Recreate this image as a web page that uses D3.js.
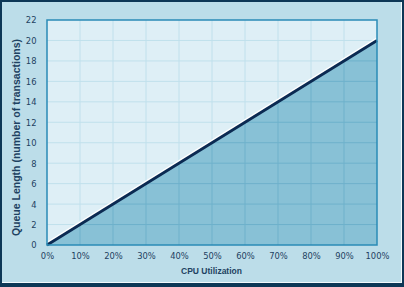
<!DOCTYPE html>
<html><head><meta charset="utf-8">
<script src="https://cdn.jsdelivr.net/npm/d3@7"></script>
<style>body{margin:0;padding:0;background:#fff}svg{display:block}</style>
</head><body>
<script>
const xValues = [0, 100];
const yValues = [0, 20];
const xTicks = [0,10,20,30,40,50,60,70,80,90,100];
const yTicks = [0,2,4,6,8,10,12,14,16,18,20,22];
const xTitle = "CPU Utilization";
const yTitle = "Queue Length (number of transactions)";

const W = 404, H = 287;
const svg = d3.select("body").append("svg").attr("width", W).attr("height", H);
svg.append("rect").attr("x",0).attr("y",0).attr("width",W).attr("height",H).attr("fill","#0d3756");
svg.append("rect").attr("x",2).attr("y",2).attr("width",W-4).attr("height",H-6).attr("fill","#f2f9fc");
svg.append("rect").attr("x",2).attr("y",2).attr("width",W-5).attr("height",H-7).attr("fill","#bcdde9");

const L=47, R=377, T=20, B=245;
const x = d3.scaleLinear().domain([0,100]).range([L,R]);
const y = d3.scaleLinear().domain([0,22]).range([B,T]);

const g = svg.append("g");
g.append("rect").attr("x",L).attr("y",T).attr("width",R-L).attr("height",B-T).attr("fill","#deeff6");

const data = xValues.map((v,i)=>({x:v,y:yValues[i]}));
g.append("path").datum(data)
  .attr("d", d3.area().x(d=>x(d.x)).y0(y(0)).y1(d=>y(d.y)))
  .attr("fill","#88c1d6");

const defs = svg.append("defs");
defs.append("clipPath").attr("id","above").append("path").datum(data)
  .attr("d", d3.area().x(d=>x(d.x)).y0(y(22)).y1(d=>y(d.y)));
defs.append("clipPath").attr("id","below").append("path").datum(data)
  .attr("d", d3.area().x(d=>x(d.x)).y0(y(0)).y1(d=>y(d.y)));

function grid(sel, color){
  sel.selectAll(".v").data(xTicks.slice(1,-1)).join("line")
    .attr("x1",d=>x(d)).attr("x2",d=>x(d)).attr("y1",T).attr("y2",B)
    .attr("stroke",color).attr("stroke-width",1);
  sel.selectAll(".h").data(yTicks.slice(1,-1)).join("line").attr("class","h")
    .attr("x1",L).attr("x2",R).attr("y1",d=>y(d)).attr("y2",d=>y(d))
    .attr("stroke",color).attr("stroke-width",1);
}
grid(g.append("g").attr("clip-path","url(#above)"), "#c0e0ec");
grid(g.append("g").attr("clip-path","url(#below)"), "#6eb1cb");

g.append("path").datum(data)
  .attr("d", d3.line().x(d=>x(d.x)).y(d=>y(d.y)-2.2))
  .attr("fill","none").attr("stroke","#ffffff").attr("stroke-width",2);
g.append("path").datum(data)
  .attr("d", d3.line().x(d=>x(d.x)).y(d=>y(d.y)))
  .attr("fill","none").attr("stroke","#0b2a52").attr("stroke-width",2.8);

g.append("rect").attr("x",L).attr("y",T).attr("width",R-L).attr("height",B-T)
  .attr("fill","none").attr("stroke","#2a8bb6").attr("stroke-width",1.5);

const tickFont = "'DejaVu Sans Condensed', 'DejaVu Sans', sans-serif";
const titleFont = "'Liberation Sans', Arial, sans-serif";
const xAxis = svg.append("g").attr("transform",`translate(0,${B+7})`)
  .call(d3.axisBottom(x).tickValues(xTicks).tickFormat(d=>d+"%").tickSize(0).tickPadding(0));
const yAxis = svg.append("g").attr("transform",`translate(${L-10.5},0)`)
  .call(d3.axisLeft(y).tickValues(yTicks).tickSize(0).tickPadding(0));
[xAxis,yAxis].forEach(a=>{
  a.select(".domain").remove();
  a.selectAll("text").attr("fill","#1e4262").style("font-family",tickFont).style("font-size","9.3px")
    .style("font-stretch","condensed");
});

svg.append("text").attr("x",(181+242)/2).attr("y",274).attr("text-anchor","middle")
  .attr("fill","#1e4262").style("font-family",titleFont).style("font-size","8.5px").style("font-weight","bold")
  .text(xTitle);
svg.append("text").attr("transform",`translate(19.5,137.5) rotate(-90)`).attr("text-anchor","middle")
  .attr("fill","#1e4262").style("font-family",titleFont).style("font-size","10.5px").style("font-weight","bold")
  .text(yTitle);
</script>
</body></html>
